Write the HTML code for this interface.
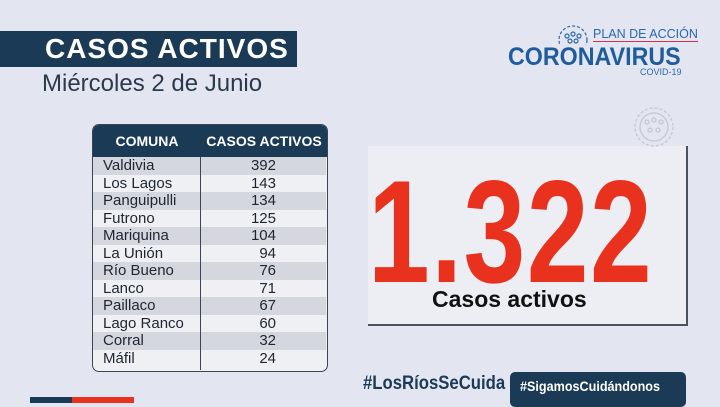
<!DOCTYPE html><html><head><meta charset="utf-8"><style>
body{margin:0;width:720px;height:403px;background:#e3e6f0;font-family:"Liberation Sans",sans-serif;position:relative;overflow:hidden}
.a{position:absolute;white-space:nowrap}
</style></head><body>
<div class="a" style="left:0;top:31px;width:297px;height:36px;background:#1b3a55"></div>
<div class="a" style="left:45px;top:33px;color:#fff;font-weight:bold;font-size:28px;letter-spacing:1px;line-height:32px">CASOS ACTIVOS</div>
<div class="a" style="left:42px;top:70px;color:#2b3a4a;font-size:24px">Miércoles 2 de Junio</div>

<div class="a" style="left:92px;top:124px;width:234px;height:246px;border:1px solid #3a4656;border-radius:7px;overflow:hidden;background:#eef0f4">
<div style="height:32px;background:#1b3a55;color:#fff;font-weight:bold;font-size:14px;display:flex;align-items:center"><span style="width:108px;text-align:center">COMUNA</span><span style="width:126px;text-align:center">CASOS ACTIVOS</span></div>
</div>
<div class="a" style="left:93px;top:157px;width:233px;font-size:15px;color:#1e2630;line-height:17.5px">
<div style="background:#d4d7de;padding-left:10px">Valdivia<span style="float:right;margin-right:50px">392</span></div>
<div style="padding-left:10px">Los Lagos<span style="float:right;margin-right:50px">143</span></div>
<div style="background:#d4d7de;padding-left:10px">Panguipulli<span style="float:right;margin-right:50px">134</span></div>
<div style="padding-left:10px">Futrono<span style="float:right;margin-right:50px">125</span></div>
<div style="background:#d4d7de;padding-left:10px">Mariquina<span style="float:right;margin-right:50px">104</span></div>
<div style="padding-left:10px">La Unión<span style="float:right;margin-right:50px">94</span></div>
<div style="background:#d4d7de;padding-left:10px">Río Bueno<span style="float:right;margin-right:50px">76</span></div>
<div style="padding-left:10px">Lanco<span style="float:right;margin-right:50px">71</span></div>
<div style="background:#d4d7de;padding-left:10px">Paillaco<span style="float:right;margin-right:50px">67</span></div>
<div style="padding-left:10px">Lago Ranco<span style="float:right;margin-right:50px">60</span></div>
<div style="background:#d4d7de;padding-left:10px">Corral<span style="float:right;margin-right:50px">32</span></div>
<div style="padding-left:10px">Máfil<span style="float:right;margin-right:50px">24</span></div>
</div>
<div class="a" style="left:200px;top:157px;height:213px;border-left:1px solid #3a4656"></div>

<div class="a" style="left:368px;top:146px;width:318px;height:178px;background:#eceef4;border-right:2px solid #4a5260;border-bottom:2px solid #4a5260"></div>
<div class="a" style="left:368px;top:152px;color:#e8321e;font-weight:bold;font-size:146px;line-height:160px;transform:scaleX(0.76);transform-origin:0 0;letter-spacing:2px">1.322</div>
<div class="a" style="left:432px;top:286px;color:#111;font-weight:bold;font-size:23px">Casos activos</div>

<svg class="a" style="left:553px;top:20px" width="40" height="25"><g fill="none" stroke="#2b6aa8" stroke-width="1.2"><circle cx="20" cy="20" r="14" stroke-dasharray="3 2"/><circle cx="14" cy="16" r="2"/><circle cx="20" cy="14" r="2"/><circle cx="26" cy="16" r="2"/><circle cx="17" cy="21" r="2"/><circle cx="23" cy="21" r="2"/></g></svg>
<div class="a" style="left:593px;top:27px;color:#2b6aa8;font-size:12.5px;border-bottom:1.5px solid #c8354a;line-height:14px">PLAN DE ACCIÓN</div>
<div class="a" style="left:508px;top:43px;color:#1f5c9c;font-weight:bold;font-size:25px;transform:scaleX(0.93);transform-origin:0 0">CORONAVIRUS</div>
<div class="a" style="left:640px;top:67px;color:#2b6aa8;font-size:9px">COVID-19</div>
<svg class="a" style="left:630px;top:103px" width="48" height="44"><g fill="none" stroke="#c3c8d3" stroke-width="1.3"><circle cx="24" cy="24" r="19" stroke-dasharray="3 2"/><circle cx="24" cy="24" r="14"/><circle cx="17" cy="19" r="2"/><circle cx="24" cy="17" r="2"/><circle cx="31" cy="19" r="2"/><circle cx="20" cy="27" r="2"/><circle cx="28" cy="27" r="2"/></g></svg>

<div class="a" style="left:363px;top:373px;color:#1b3a55;font-weight:bold;font-size:19px;transform:scaleX(0.88);transform-origin:0 0">#LosRíosSeCuida</div>
<div class="a" style="left:510px;top:372px;width:176px;height:35px;background:#1b3a55;border-radius:5px"></div>
<div class="a" style="left:520px;top:378px;color:#fff;font-weight:bold;font-size:14px;transform:scaleX(0.9);transform-origin:0 0">#SigamosCuidándonos</div>
<div class="a" style="left:30px;top:397px;width:42px;height:6px;background:#1b3a55"></div>
<div class="a" style="left:72px;top:397px;width:62px;height:6px;background:#e8321e"></div>
</body></html>
